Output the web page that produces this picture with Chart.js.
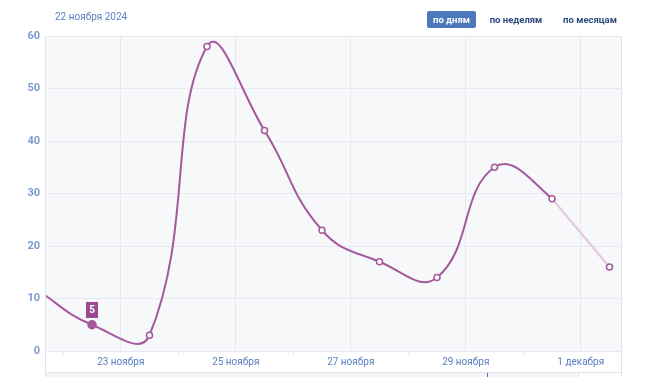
<!DOCTYPE html>
<html>
<head>
<meta charset="utf-8">
<script src="https://cdn.jsdelivr.net/npm/chart.js@4"></script>
<style>
    html, body { margin: 0; padding: 0; background: #fff; }
    body { width: 650px; height: 377px; position: relative; overflow: hidden; font-family: Roboto, sans-serif; }
    #chart1 { position: absolute; left: 0; top: 0; }
    .date { position: absolute; left: 55px; top: 11px; font-size: 10px; color: #5b81c4; }
    .btn { position: absolute; top: 11px; height: 17px; line-height: 17px; font-size: 9.5px; font-weight: 700; color: #2e4b7d; text-align: center; border-radius: 2px; }
    .btn.on { background: #4b78ba; color: #fff; }
</style>
</head>
<body>
<canvas id="chart1" width="650" height="377"></canvas>
<div class="date">22 ноября 2024</div>
<div class="btn on" style="left:427px;width:49px;">по дням</div>
<div class="btn" style="left:486px;width:60px;">по неделям</div>
<div class="btn" style="left:559px;width:62px;">по месяцам</div>
<script>
// days of the month (Nov; 31 = 1 Dec), points sit at noon
const days = [21, 22, 23, 24, 25, 26, 27, 28, 29, 30, 31];
const values = [12, 5, 3, 58, 42, 23, 17, 14, 35, 29, 16];
const tickDays = [23, 25, 27, 29, 31];
const tickLabels = ["23 ноября", "25 ноября", "27 ноября", "29 ноября", "1 декабря"];
const selectedIndex = 1;

const lineColor = "#a6589c";
const fadedColor = "#e4c8e0";
const gridColor = "#e6e9ef";

const points = days.map((d, i) => ({ x: d + 0.5, y: values[i] }));
const last = points.length - 1;

const frame = {
    id: "frame",
    beforeDraw(chart) {
        const { ctx, chartArea: a } = chart;
        ctx.save();
        ctx.fillStyle = "#f7f8fa";
        ctx.fillRect(a.left, a.top, a.right - a.left, a.bottom - a.top);
        // navigator strip below the axis
        ctx.fillStyle = "#f3f4f7";
        ctx.fillRect(a.left, 372, 532, 5);
        ctx.strokeStyle = "#dfe3ea";
        ctx.lineWidth = 1;
        ctx.beginPath();
        ctx.moveTo(a.left, 372.5); ctx.lineTo(a.right, 372.5);
        ctx.moveTo(a.left - 0.5, a.top); ctx.lineTo(a.left - 0.5, 377);
        ctx.moveTo(578.5, 372); ctx.lineTo(578.5, 377);
        ctx.moveTo(a.right + 0.5, a.top); ctx.lineTo(a.right + 0.5, 377);
        ctx.stroke();
        ctx.strokeStyle = lineColor;
        ctx.beginPath();
        ctx.moveTo(487.5, 373); ctx.lineTo(487.5, 377);
        ctx.stroke();
        ctx.restore();
    },
    afterDatasetsDraw(chart) {
        const p = chart.getDatasetMeta(0).data[selectedIndex];
        const { ctx } = chart;
        ctx.save();
        ctx.fillStyle = "#9c4a8c";
        ctx.fillRect(Math.round(p.x) - 6, Math.round(p.y) - 23, 12, 16);
        ctx.fillStyle = "#fff";
        ctx.font = "bold 10px Roboto";
        ctx.textAlign = "center";
        ctx.textBaseline = "middle";
        ctx.fillText(String(values[selectedIndex]), Math.round(p.x), Math.round(p.y) - 15);
        ctx.restore();
    }
};

const ctx = document.getElementById("chart1").getContext("2d");
new Chart(ctx, {
    type: "line",
    data: {
        datasets: [{
            data: points,
            borderColor: lineColor,
            borderWidth: 2,
            tension: 0.45,
            clip: 0,
            segment: {
                borderColor: c => c.p1DataIndex === last ? "rgba(0,0,0,0)" : lineColor
            },
            pointRadius: c => c.dataIndex === last ? 0 : (c.dataIndex === selectedIndex ? 4 : 3),
            pointBackgroundColor: c => c.dataIndex === selectedIndex ? lineColor : "#fff",
            pointBorderColor: lineColor,
            pointBorderWidth: 1.5
        }, {
            // last day is still incomplete: drawn straight and faded
            data: points.slice(last - 1),
            borderColor: fadedColor,
            borderWidth: 2,
            tension: 0,
            clip: 0,
            pointRadius: c => c.dataIndex === 1 ? 3 : 0,
            pointBackgroundColor: "#fff",
            pointBorderColor: lineColor,
            pointBorderWidth: 1.5
        }]
    },
    plugins: [frame],
    options: {
        responsive: false,
        animation: false,
        elements: { line: { capBezierPoints: false } },
        layout: { padding: { top: 36, right: 29, left: 0, bottom: 0 } },
        plugins: {
            legend: { display: false },
            tooltip: { enabled: false }
        },
        scales: {
            x: {
                type: "linear",
                min: 21.7,
                max: 31.7,
                afterBuildTicks: s => { s.ticks = [22, 23, 24, 25, 26, 27, 28, 29, 30, 31].map(v => ({ value: v })); },
                afterFit: s => { s.height = 26; },
                border: { color: gridColor },
                grid: {
                    color: c => tickDays.includes(c.tick && c.tick.value) ? gridColor : "rgba(0,0,0,0)",
                    tickColor: c => tickDays.includes(c.tick && c.tick.value) ? "rgba(0,0,0,0)" : gridColor,
                    tickLength: 4
                },
                ticks: {
                    autoSkip: false,
                    maxRotation: 0,
                    padding: 1,
                    color: "#5a80c2",
                    font: { family: "Roboto", size: 10 },
                    callback: v => {
                        const i = tickDays.indexOf(v);
                        return i >= 0 ? tickLabels[i] : "";
                    }
                }
            },
            y: {
                min: 0,
                max: 60,
                afterFit: s => { s.width = 46; },
                border: { display: false },
                grid: { color: gridColor, drawTicks: false },
                ticks: {
                    stepSize: 10,
                    padding: 6,
                    color: "#7b9bd0",
                    font: { family: "Roboto", size: 11, weight: "bold" }
                }
            }
        }
    }
});
</script>
</body>
</html>
